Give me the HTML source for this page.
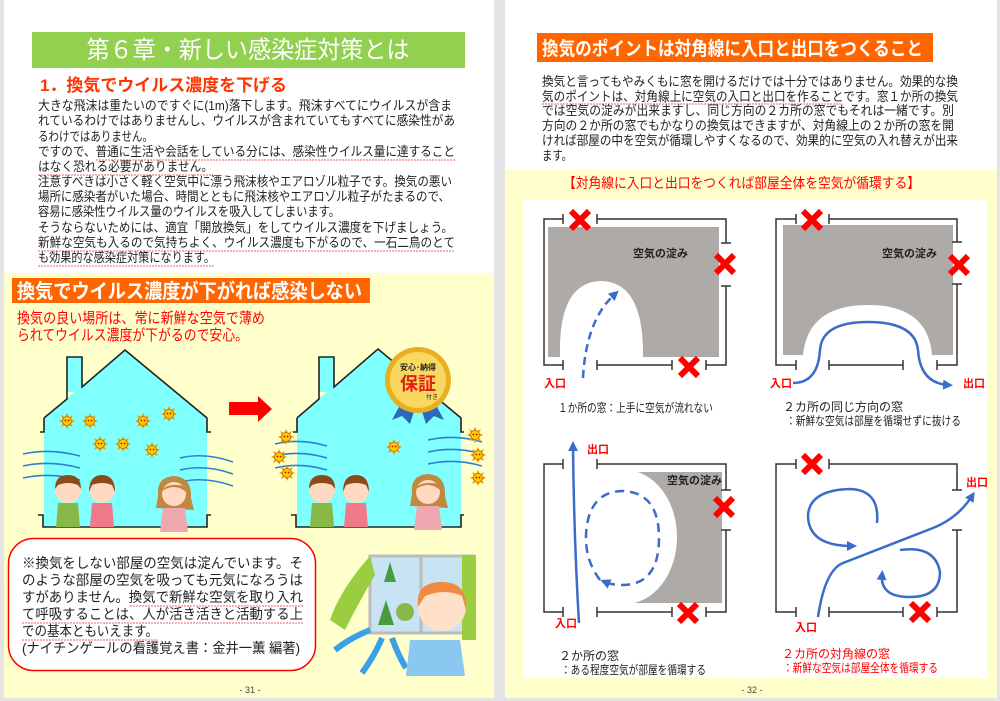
<!DOCTYPE html>
<html><head><meta charset="utf-8"><style>
html,body{margin:0;padding:0;background:#e4e4e4;}
svg{display:block;}
text{font-family:"Liberation Sans","Noto Sans CJK JP",sans-serif;}
</style></head><body>
<svg width="1000" height="701" viewBox="0 0 1000 701" xmlns="http://www.w3.org/2000/svg">
<defs>
<marker id="ah" viewBox="0 0 10 10" refX="5" refY="5" markerWidth="4" markerHeight="4" orient="auto"><path d="M0,0L10,5L0,10z" fill="#3a6cc8"/></marker>
<g id="v"><path d="M0,-8L2,-4L6,-6L4,-2L8,0L4,2L6,6L2,4L0,8L-2,4L-6,6L-4,2L-8,0L-4,-2L-6,-6L-2,-4z" fill="#e8a000"/><circle r="4.5" fill="#ffcc00" stroke="#c07000" stroke-width="0.8"/><circle cx="-1.6" cy="-0.5" r="0.9" fill="#c00"/><circle cx="1.6" cy="-0.5" r="0.9" fill="#c00"/></g>
<g id="x"><path d="M-9,-9L9,9M9,-9L-9,9" stroke="#ff0000" stroke-width="6"/></g>
<g id="kid1"><circle cx="0" cy="0" r="13" fill="#ffd9c0"/><path d="M-13,-1Q-13,-15 0,-15Q13,-15 13,-1L10,-5Q0,-9 -10,-5z" fill="#8a4a1a"/><path d="M-10,13L10,13L12,37L-12,37z" fill="#8ab848"/></g>
<g id="kid2"><circle cx="0" cy="0" r="13" fill="#ffd9c0"/><path d="M-13,2Q-13,-15 0,-15Q13,-15 13,2L10,-5Q0,-9 -10,-5z" fill="#8a4a1a"/><path d="M-10,13L10,13L12,37L-12,37z" fill="#f07a8a"/></g>
<g id="wom"><path d="M-16,2Q-18,-17 0,-18Q18,-17 17,4L20,16L-18,14z" fill="#c08840"/><circle cx="0" cy="0" r="12" fill="#ffd9c0"/><path d="M-13,-2Q-8,-12 10,-8L12,-2Q0,-12 -13,-2z" fill="#c08840"/><path d="M-11,14L11,14L14,38L-14,38z" fill="#f0a8b0"/></g>
</defs>

<!-- pages -->
<rect x="4" y="0" width="490" height="698" fill="#fff"/>
<rect x="505" y="0" width="492" height="698" fill="#fff"/>
<rect x="4" y="273" width="490" height="425" fill="#ffffcc"/>
<rect x="505" y="170" width="492" height="528" fill="#ffffcc"/>

<!-- LEFT PAGE -->
<rect x="32" y="32" width="433" height="36" fill="#92d050"/>
<text x="248" y="58" font-size="24" fill="#fff" text-anchor="middle" textLength="323" lengthAdjust="spacingAndGlyphs">第６章・新しい感染症対策とは</text>
<text x="40" y="91" font-size="17" font-weight="bold" fill="#ff3300" textLength="247" lengthAdjust="spacingAndGlyphs">1．換気でウイルス濃度を下げる</text>
<g font-size="13" fill="#222">
<text x="38" y="110" textLength="414" lengthAdjust="spacingAndGlyphs">大きな飛沫は重たいのですぐに(1m)落下します。飛沫すべてにウイルスが含ま</text>
<text x="38" y="125" textLength="417" lengthAdjust="spacingAndGlyphs">れているわけではありませんし、ウイルスが含まれていてもすべてに感染性があ</text>
<text x="38" y="141" textLength="115" lengthAdjust="spacingAndGlyphs">るわけではありません。</text>
<text x="38" y="156" textLength="417" lengthAdjust="spacingAndGlyphs">ですので、普通に生活や会話をしている分には、感染性ウイルス量に達すること</text>
<text x="38" y="171" textLength="175" lengthAdjust="spacingAndGlyphs">はなく恐れる必要がありません。</text>
<text x="38" y="186" textLength="414" lengthAdjust="spacingAndGlyphs">注意すべきは小さく軽く空気中に漂う飛沫核やエアロゾル粒子です。換気の悪い</text>
<text x="38" y="201" textLength="412" lengthAdjust="spacingAndGlyphs">場所に感染者がいた場合、時間とともに飛沫核やエアロゾル粒子がたまるので、</text>
<text x="38" y="216" textLength="302" lengthAdjust="spacingAndGlyphs">容易に感染性ウイルス量のウイルスを吸入してしまいます。</text>
<text x="38" y="232" textLength="415" lengthAdjust="spacingAndGlyphs">そうならないためには、適宜「開放換気」をしてウイルス濃度を下げましょう。</text>
<text x="38" y="247" textLength="417" lengthAdjust="spacingAndGlyphs">新鮮な空気も入るので気持ちよく、ウイルス濃度も下がるので、一石二鳥のとて</text>
<text x="38" y="262" textLength="177" lengthAdjust="spacingAndGlyphs">も効果的な感染症対策になります。</text>
</g>
<g stroke="#e03030" stroke-width="0.8" stroke-dasharray="2,1" fill="none">
<path d="M96,160H455M38,175H213M38,251H455M38,266H215"/>
</g>

<rect x="12" y="278" width="358" height="25" fill="#ff6600"/>
<text x="17" y="298" font-size="20" font-weight="bold" fill="#fff" textLength="345" lengthAdjust="spacingAndGlyphs">換気でウイルス濃度が下がれば感染しない</text>
<text x="17" y="323" font-size="15" fill="#ff0000" textLength="248" lengthAdjust="spacingAndGlyphs">換気の良い場所は、常に新鮮な空気で薄め</text>
<text x="17" y="340" font-size="15" fill="#ff0000" textLength="231" lengthAdjust="spacingAndGlyphs">られてウイルス濃度が下がるので安心。</text>

<!-- left house -->
<path d="M44,527V417L125,350L207,417V527z" fill="#80ffff"/>
<rect x="67" y="357" width="15" height="35" fill="#80ffff"/>
<g fill="none" stroke="#222" stroke-width="1.6">
<path d="M44,418L67,399V357H82V387L125,350L207,418V432H211"/>
<path d="M44,418V432H40"/>
<path d="M38,515H43V527H207V515H211"/>
</g>
<!-- right house -->
<path d="M297,527V417L378,349L461,417V527z" fill="#80ffff"/>
<rect x="319" y="357" width="15" height="35" fill="#80ffff"/>
<g fill="none" stroke="#222" stroke-width="1.6">
<path d="M297,418L319,399V357H334V387L378,349L461,418V432H464"/>
<path d="M297,418V432H293"/>
<path d="M291,515H296V527H461V515H464"/>
</g>
<path d="M229,402H258V396L272,409L258,422V415H229z" fill="#ff0000"/>

<!-- wind -->
<g fill="none" stroke="#2f7fd0" stroke-width="1.6">
<path d="M23,454Q50,448 80,456M23,466Q50,460 80,468M23,478Q50,472 80,480"/>
<path d="M180,458Q205,452 233,462M180,470Q205,464 233,474M180,482Q205,476 233,486"/>
<path d="M275,444Q300,438 327,446M275,456Q300,450 327,458M275,468Q300,462 327,470"/>
<path d="M428,440Q455,434 482,442M428,452Q455,446 482,454M428,464Q455,458 482,466"/>
</g>
<use href="#v" x="67" y="421"/><use href="#v" x="90" y="421"/><use href="#v" x="143" y="421"/><use href="#v" x="169" y="414"/>
<use href="#v" x="100" y="444"/><use href="#v" x="123" y="444"/><use href="#v" x="152" y="450"/>
<use href="#v" x="286" y="437"/><use href="#v" x="279" y="457"/><use href="#v" x="287" y="473"/><use href="#v" x="394" y="447"/>
<use href="#v" x="475" y="435"/><use href="#v" x="478" y="455"/><use href="#v" x="478" y="478"/>
<use href="#kid1" x="68" y="490"/><use href="#kid2" x="102" y="490"/><use href="#wom" x="174" y="494"/>
<use href="#kid1" x="322" y="490"/><use href="#kid2" x="356" y="490"/><use href="#wom" x="428" y="492"/>

<!-- badge -->
<path d="M400,405L392,420L402,416L410,424L415,408z" fill="#2a6ab8"/>
<path d="M436,405L444,420L434,416L426,424L421,408z" fill="#2a6ab8"/>
<circle cx="418" cy="380" r="33" fill="#e8b020"/>
<circle cx="418" cy="380" r="28" fill="#f8d860"/>
<text x="418" y="370" font-size="8" font-weight="bold" fill="#222" text-anchor="middle">安心･納得</text>
<text x="418" y="390" font-size="18" font-weight="bold" fill="#e02010" text-anchor="middle">保証</text>
<text x="432" y="399" font-size="6" fill="#222" text-anchor="middle">付き</text>

<!-- quote box -->
<rect x="8.5" y="538.5" width="307" height="132" rx="25" fill="#fff" stroke="#ff0000" stroke-width="1.5"/>
<g font-size="14" fill="#222">
<text x="22" y="568" textLength="281" lengthAdjust="spacingAndGlyphs">※換気をしない部屋の空気は淀んでいます。そ</text>
<text x="22" y="585" textLength="281" lengthAdjust="spacingAndGlyphs">のような部屋の空気を吸っても元気になろうは</text>
<text x="22" y="602" textLength="281" lengthAdjust="spacingAndGlyphs">すがありません。換気で新鮮な空気を取り入れ</text>
<text x="22" y="619" textLength="281" lengthAdjust="spacingAndGlyphs">て呼吸することは、人が活き活きと活動する上</text>
<text x="22" y="636" textLength="136" lengthAdjust="spacingAndGlyphs">での基本ともいえます。</text>
<text x="22" y="653" textLength="278" lengthAdjust="spacingAndGlyphs">(ナイチンゲールの看護覚え書：金井一薫 編著)</text>
</g>
<path d="M130,606H303M22,623H303M22,640H158" stroke="#e03030" stroke-width="0.8" stroke-dasharray="2,1"/>

<!-- window illustration -->
<rect x="370" y="556" width="103" height="77" fill="#c8e4f4" stroke="#bbb" stroke-width="3"/>
<line x1="421" y1="556" x2="421" y2="633" stroke="#bbb" stroke-width="3"/>
<path d="M384,582L390,562L396,582z" fill="#4a9a40"/><circle cx="405" cy="612" r="9" fill="#8ab848"/>
<path d="M378,625L386,600L394,625z" fill="#4a9a40"/>
<path d="M370,556Q340,590 330,620L345,630Q360,600 375,575z" fill="#9acd40"/>
<rect x="462" y="555" width="14" height="85" fill="#9acd40"/>
<g fill="none" stroke="#3aa0e8" stroke-width="6">
<path d="M370,630Q350,638 335,650"/><path d="M382,638Q375,655 362,673"/><path d="M392,638Q398,655 406,668"/>
</g>
<path d="M410,640L460,640L465,676L406,676z" fill="#8ac8f0"/>
<circle cx="442" cy="607" r="24" fill="#ffe0c8"/>
<path d="M418,607Q415,582 442,582Q468,582 466,610L462,596Q445,588 425,596z" fill="#f08a40"/>

<text x="250" y="693" font-size="9" fill="#444" text-anchor="middle">- 31 -</text>

<!-- RIGHT PAGE -->
<rect x="537" y="33" width="396" height="29" fill="#ff6600"/>
<text x="542" y="55" font-size="19" font-weight="bold" fill="#fff" textLength="381" lengthAdjust="spacingAndGlyphs">換気のポイントは対角線に入口と出口をつくること</text>
<g font-size="13" fill="#222">
<text x="542" y="86" textLength="416" lengthAdjust="spacingAndGlyphs">換気と言ってもやみくもに窓を開けるだけでは十分ではありません。効果的な換</text>
<text x="542" y="101" textLength="416" lengthAdjust="spacingAndGlyphs">気のポイントは、対角線上に空気の入口と出口を作ることです。窓１か所の換気</text>
<text x="542" y="115" textLength="412" lengthAdjust="spacingAndGlyphs">では空気の淀みが出来ますし、同じ方向の２カ所の窓でもそれは一緒です。別</text>
<text x="542" y="130" textLength="412" lengthAdjust="spacingAndGlyphs">方向の２か所の窓でもかなりの換気はできますが、対角線上の２か所の窓を開</text>
<text x="542" y="145" textLength="416" lengthAdjust="spacingAndGlyphs">ければ部屋の中を空気が循環しやすくなるので、効果的に空気の入れ替えが出来</text>
<text x="542" y="160" textLength="30" lengthAdjust="spacingAndGlyphs">ます。</text>
</g>
<path d="M542,104H842" stroke="#e03030" stroke-width="0.8" stroke-dasharray="2,1"/>
<text x="563" y="188" font-size="14" fill="#ff0000" textLength="357" lengthAdjust="spacingAndGlyphs">【対角線に入口と出口をつくれば部屋全体を空気が循環する】</text>
<rect x="523" y="200" width="464" height="478" fill="#fff"/>

<!-- diagram 1 -->
<rect x="548" y="227" width="171" height="130" fill="#aeaaa8"/>
<path d="M560,357Q558,282 601,281Q644,282 643,357z" fill="#fff"/>
<g fill="none" stroke="#333" stroke-width="1.5">
<path d="M563,219H544V365H563M563,360V370M563,214V224"/>
<path d="M597,214V224M597,219H726V243M721,243H731M721,286H731M726,286V365H706M706,360V370"/>
<path d="M597,360V370M597,365H672M672,360V370"/>
</g>
<path d="M583,378Q586,320 615,294" fill="none" stroke="#3a6cc8" stroke-width="2.5" stroke-dasharray="8,5" marker-end="url(#ah)"/>
<text x="633" y="257" font-size="11" font-weight="bold" fill="#222">空気の淀み</text>
<use href="#x" x="580" y="220"/><use href="#x" x="725" y="264"/><use href="#x" x="689" y="367"/>
<text x="544" y="387" font-size="11" font-weight="bold" fill="#ff0000">入口</text>
<text x="558" y="412" font-size="12" fill="#222" textLength="155" lengthAdjust="spacingAndGlyphs">１か所の窓：上手に空気が流れない</text>

<!-- diagram 2 -->
<rect x="783" y="225" width="170" height="130" fill="#aeaaa8"/>
<path d="M803,355Q808,305 868,305Q928,305 932,355z" fill="#fff"/>
<g fill="none" stroke="#333" stroke-width="1.5">
<path d="M796,219H776V365H796M796,360V370M796,214V224"/>
<path d="M829,214V224M829,219H957V242M952,242H962M952,284H962M957,284V365H937M937,360V370"/>
<path d="M829,360V370M829,365H903M903,360V370"/>
</g>
<path d="M793,383Q818,383 820,350Q822,322 868,322Q915,322 918,350Q920,383 948,385" fill="none" stroke="#3a6cc8" stroke-width="2.5" marker-end="url(#ah)"/>
<text x="882" y="257" font-size="11" font-weight="bold" fill="#222">空気の淀み</text>
<use href="#x" x="812" y="220"/><use href="#x" x="959" y="265"/>
<text x="770" y="387" font-size="11" font-weight="bold" fill="#ff0000">入口</text>
<text x="963" y="387" font-size="11" font-weight="bold" fill="#ff0000">出口</text>
<text x="783" y="411" font-size="12" fill="#222">２カ所の同じ方向の窓</text>
<text x="786" y="425" font-size="12" fill="#222" textLength="175" lengthAdjust="spacingAndGlyphs">：新鮮な空気は部屋を循環せずに抜ける</text>

<!-- diagram 3 -->
<rect x="625" y="472" width="97" height="131" fill="#aeaaa8"/>
<ellipse cx="625" cy="537" rx="52" ry="67" fill="#fff"/>
<g fill="none" stroke="#333" stroke-width="1.5">
<path d="M563,464H544V612H563M563,607V617M563,459V469"/>
<path d="M597,459V469M597,464H726V490M721,490H731M721,530H731M726,530V612H706M706,607V617"/>
<path d="M597,607V617M597,612H672M672,607V617"/>
</g>
<path d="M579,623Q574,540 573,446" fill="none" stroke="#3a6cc8" stroke-width="2.5" marker-end="url(#ah)"/>
<path d="M600,580Q585,560 586,535Q588,492 622,491Q659,492 659,538Q659,585 622,585Q612,585 605,582" fill="none" stroke="#3a6cc8" stroke-width="2.5" stroke-dasharray="9,6" marker-end="url(#ah)"/>
<text x="667" y="484" font-size="11" font-weight="bold" fill="#222">空気の淀み</text>
<use href="#x" x="724" y="507"/><use href="#x" x="688" y="613"/>
<text x="587" y="453" font-size="11" font-weight="bold" fill="#ff0000">出口</text>
<text x="555" y="627" font-size="11" font-weight="bold" fill="#ff0000">入口</text>
<text x="559" y="660" font-size="12" fill="#222">２か所の窓</text>
<text x="561" y="674" font-size="12" fill="#222" textLength="145" lengthAdjust="spacingAndGlyphs">：ある程度空気が部屋を循環する</text>

<!-- diagram 4 -->
<g fill="none" stroke="#333" stroke-width="1.5">
<path d="M796,464H776V612H796M796,607V617M796,459V469"/>
<path d="M829,459V469M829,464H957V490M952,490H962M952,530H962M957,530V612H937M937,607V617"/>
<path d="M829,607V617M829,612H903M903,607V617"/>
</g>
<g fill="none" stroke="#3a6cc8" stroke-width="2.5">
<path d="M818,617Q825,570 843,563L933,528Q958,518 972,496" marker-end="url(#ah)"/>
<path d="M877,523Q880,490 850,489Q810,490 808,515Q808,546 852,546" marker-end="url(#ah)"/>
<path d="M900,550Q935,545 940,572Q940,597 910,597Q880,597 882,575" marker-end="url(#ah)"/>
</g>
<use href="#x" x="812" y="464"/><use href="#x" x="920" y="612"/>
<text x="966" y="486" font-size="11" font-weight="bold" fill="#ff0000">出口</text>
<text x="795" y="631" font-size="11" font-weight="bold" fill="#ff0000">入口</text>
<text x="782" y="658" font-size="12" fill="#ff0000">２カ所の対角線の窓</text>
<text x="783" y="672" font-size="12" fill="#ff0000" textLength="155" lengthAdjust="spacingAndGlyphs">：新鮮な空気は部屋全体を循環する</text>

<text x="752" y="693" font-size="9" fill="#444" text-anchor="middle">- 32 -</text>
</svg>
</body></html>
